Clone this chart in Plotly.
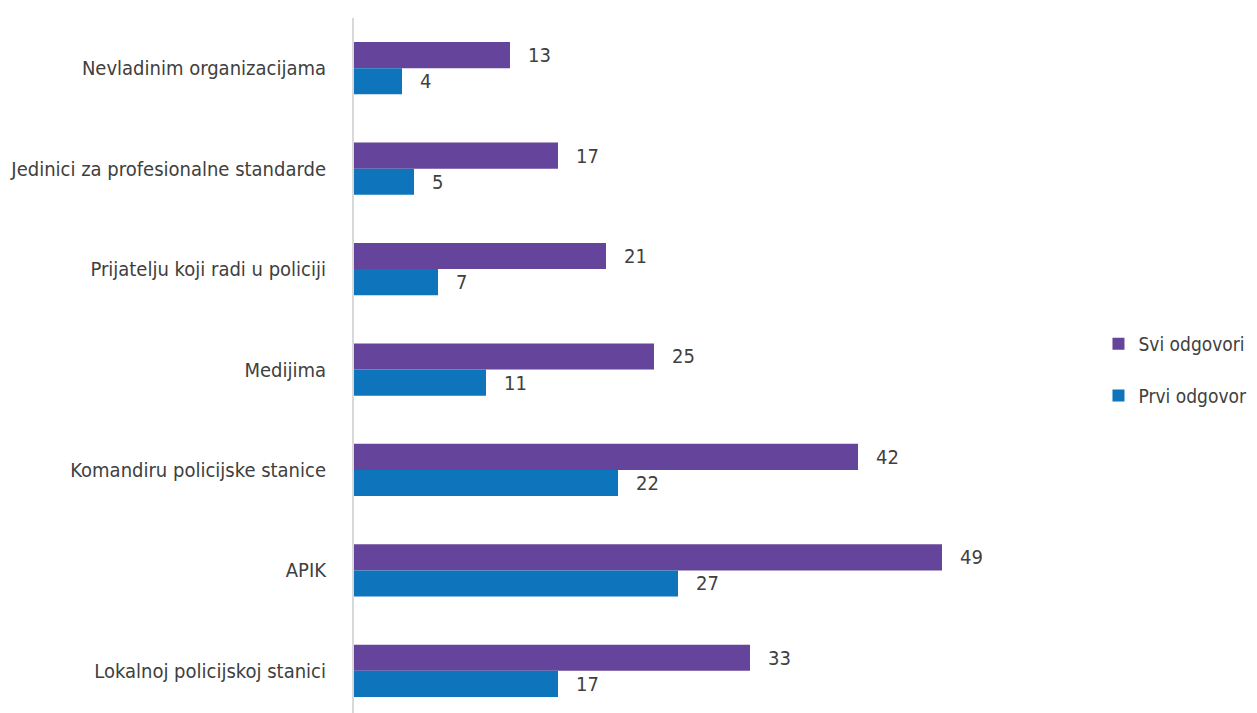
import plotly.graph_objects as go

categories = [
    "Nevladinim organizacijama",
    "Jedinici za profesionalne standarde",
    "Prijatelju koji radi u policiji",
    "Medijima",
    "Komandiru policijske stanice",
    "APIK",
    "Lokalnoj policijskoj stanici",
]
svi_odgovori = [13, 17, 21, 25, 42, 49, 33]
prvi_odgovor = [4, 5, 7, 11, 22, 27, 17]
series_names = ["Svi odgovori", "Prvi odgovor"]
colors = ["#65449B", "#0E74BC"]

FONT = "DejaVu Sans Condensed, Roboto Condensed, Roboto, sans-serif"
TXT = "#404040"
pad = "\u00a0\u00a0\u2009"

fig = go.Figure()
for i, (name, vals) in enumerate(zip(series_names, [svi_odgovori, prvi_odgovor])):
    fig.add_trace(go.Bar(
        y=categories, x=vals, orientation="h", name=name,
        marker=dict(color=colors[i], line=dict(width=0)),
        text=vals, texttemplate=pad + "%{x}", textposition="outside",
        textfont=dict(family=FONT, size=20, color=TXT),
        cliponaxis=False, legendgroup=name,
    ))

fig.update_layout(
    width=1249, height=705,
    margin=dict(l=346, r=183, t=10, b=0, autoexpand=False),
    paper_bgcolor="white", plot_bgcolor="white",
    barmode="group", bargap=0.48, bargroupgap=0,
    font=dict(family=FONT, size=20, color=TXT),
    legend=dict(x=1.034, xanchor="left", y=0.4935, yanchor="middle",
                font=dict(family=FONT, size=19, color=TXT),
                tracegroupgap=24, bgcolor="rgba(0,0,0,0)"),
    xaxis=dict(range=[0, 60], showgrid=False, zeroline=False,
               showticklabels=False, showline=False, ticks="", automargin=False),
    yaxis=dict(range=[6.42, -0.5], showgrid=False, zeroline=False,
               showline=True, linecolor="#d9d9d9", linewidth=2,
               ticks="", ticklabelstandoff=22, automargin=False,
               tickfont=dict(family=FONT, size=20, color=TXT)),
)

fig.write_html("out.html")
